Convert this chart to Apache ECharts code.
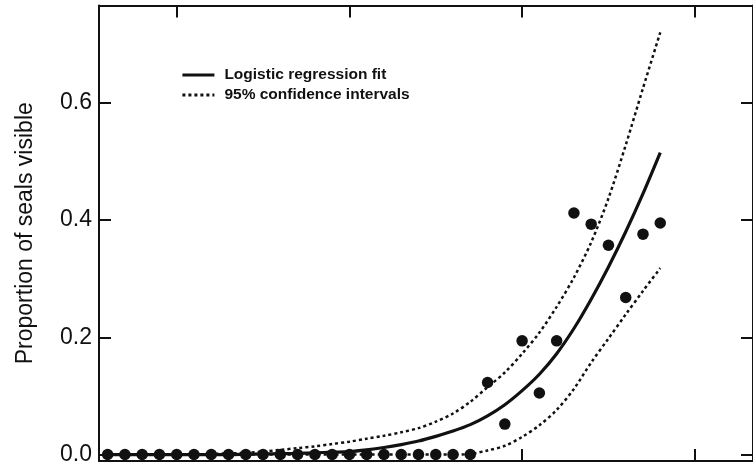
<!DOCTYPE html>
<html>
<head>
<meta charset="utf-8">
<title>Proportion of seals visible</title>
<script src="https://cdn.jsdelivr.net/npm/echarts@6/dist/echarts.min.js"></script>
<style>
  html, body { margin: 0; padding: 0; background: #fff; }
  #chart { width: 753px; height: 470px; }
</style>
</head>
<body>
<div id="chart"></div>
<script>
// Sampling positions along the horizontal axis (one per observation)
const xSteps = [6, 7, 8, 9, 10, 11, 12, 13, 14, 15, 16, 17, 18, 19, 20, 21, 22,
  23, 24, 25, 26, 27, 28, 29, 30, 31, 32, 33, 34, 35, 36, 37, 38];

// Observed proportion of seals visible
const observed = [0, 0, 0, 0, 0, 0, 0, 0, 0, 0, 0, 0, 0, 0, 0, 0, 0, 0, 0, 0, 0, 0,
  0.123, 0.052, 0.194, 0.105, 0.194, 0.412, 0.393, 0.357, 0.268, 0.376, 0.395];

// Logistic regression fit
const fitted = [0, 0, 0, 0, 0, 0, 0, 0, 0.0005, 0.001, 0.0015, 0.002, 0.003, 0.004,
  0.005, 0.008, 0.012, 0.017, 0.023, 0.031, 0.04, 0.051, 0.066, 0.085, 0.109,
  0.137, 0.172, 0.215, 0.265, 0.32, 0.38, 0.445, 0.515];

// 95% confidence bounds
const upperCI = [0, 0, 0, 0, 0, 0, 0.001, 0.002, 0.003, 0.005, 0.008, 0.011, 0.014,
  0.018, 0.022, 0.027, 0.032, 0.038, 0.045, 0.056, 0.07, 0.09, 0.115, 0.14, 0.172,
  0.208, 0.252, 0.302, 0.362, 0.437, 0.528, 0.625, 0.72];
const lowerCI = [0, 0, 0, 0, 0, 0, 0, 0, 0, 0, 0, 0, 0, 0, 0, 0, 0, 0, 0, 0, 0,
  0.001, 0.007, 0.015, 0.03, 0.05, 0.076, 0.112, 0.157, 0.198, 0.239, 0.279, 0.318];

// Tick positions
const xTicks = [10, 20, 30, 40];
const yTicks = [0, 0.2, 0.4, 0.6];

const X_MIN = 5.5, X_MAX = 43.37;
const Y_MIN = -0.011, Y_MAX = 0.766;

const FONT = "'Liberation Sans', Arial, Helvetica, sans-serif";
const INK = '#111';

const pairs = (ys) => xSteps.map((x, i) => [x, ys[i]]);

const frameLine = { show: true, onZero: false, lineStyle: { color: INK, width: 2 } };
const innerTicks = (vals) => ({
  show: true, inside: true, length: 12, customValues: vals,
  lineStyle: { color: INK, width: 2 }
});

const chart = echarts.init(document.getElementById('chart'), null, { renderer: 'canvas' });

chart.setOption({
  animation: false,
  backgroundColor: '#fff',
  grid: { left: 99, right: -6, top: 5.5, bottom: 9, containLabel: false },
  legend: {
    data: ['Logistic regression fit', '95% confidence intervals'],
    orient: 'vertical',
    left: 181,
    top: 67,
    padding: 0,
    itemWidth: 32,
    itemHeight: 14,
    itemGap: 4,
    selectedMode: false,
    itemStyle: { opacity: 0 },
    lineStyle: { width: 2.8 },
    textStyle: { fontFamily: FONT, fontSize: 15.5, fontWeight: 'bold', color: INK, padding: [0, 0, 0, 5] }
  },
  xAxis: [
    {
      type: 'value', min: X_MIN, max: X_MAX, position: 'bottom',
      axisLine: frameLine, axisTick: innerTicks(xTicks),
      axisLabel: { show: false }, splitLine: { show: false }
    },
    {
      type: 'value', min: X_MIN, max: X_MAX, position: 'top',
      axisLine: frameLine, axisTick: innerTicks(xTicks),
      axisLabel: { show: false }, splitLine: { show: false }
    }
  ],
  yAxis: [
    {
      type: 'value', min: Y_MIN, max: Y_MAX, position: 'left',
      name: 'Proportion of seals visible',
      nameLocation: 'middle',
      nameGap: 62,
      nameTextStyle: { fontFamily: FONT, fontSize: 23, color: INK },
      axisLine: frameLine, axisTick: innerTicks(yTicks),
      axisLabel: {
        customValues: yTicks, margin: 7,
        fontFamily: FONT, fontSize: 23, color: INK,
        formatter: (v) => Number(v).toFixed(1)
      },
      splitLine: { show: false }
    },
    {
      type: 'value', min: Y_MIN, max: Y_MAX, position: 'right',
      axisLine: frameLine, axisTick: innerTicks(yTicks),
      axisLabel: { show: false }, splitLine: { show: false }
    }
  ],
  series: [
    {
      name: '95% confidence intervals',
      type: 'line',
      data: pairs(upperCI),
      showSymbol: false, symbol: 'none', smooth: 0.3,
      lineStyle: { color: INK, width: 2.5, type: [3, 3] },
      itemStyle: { color: INK },
      z: 2
    },
    {
      name: '95% confidence intervals',
      type: 'line',
      data: pairs(lowerCI),
      showSymbol: false, symbol: 'none', smooth: 0.3,
      lineStyle: { color: INK, width: 2.5, type: [3, 3] },
      itemStyle: { color: INK },
      z: 2
    },
    {
      name: 'Logistic regression fit',
      type: 'line',
      data: pairs(fitted),
      showSymbol: false, symbol: 'none', smooth: 0.3,
      lineStyle: { color: INK, width: 3.2 },
      itemStyle: { color: INK },
      z: 3
    },
    {
      name: 'Observed',
      type: 'scatter',
      data: pairs(observed),
      symbol: 'circle',
      symbolSize: 11.5,
      itemStyle: { color: INK, opacity: 1 },
      z: 4
    }
  ]
});
</script>
</body>
</html>
